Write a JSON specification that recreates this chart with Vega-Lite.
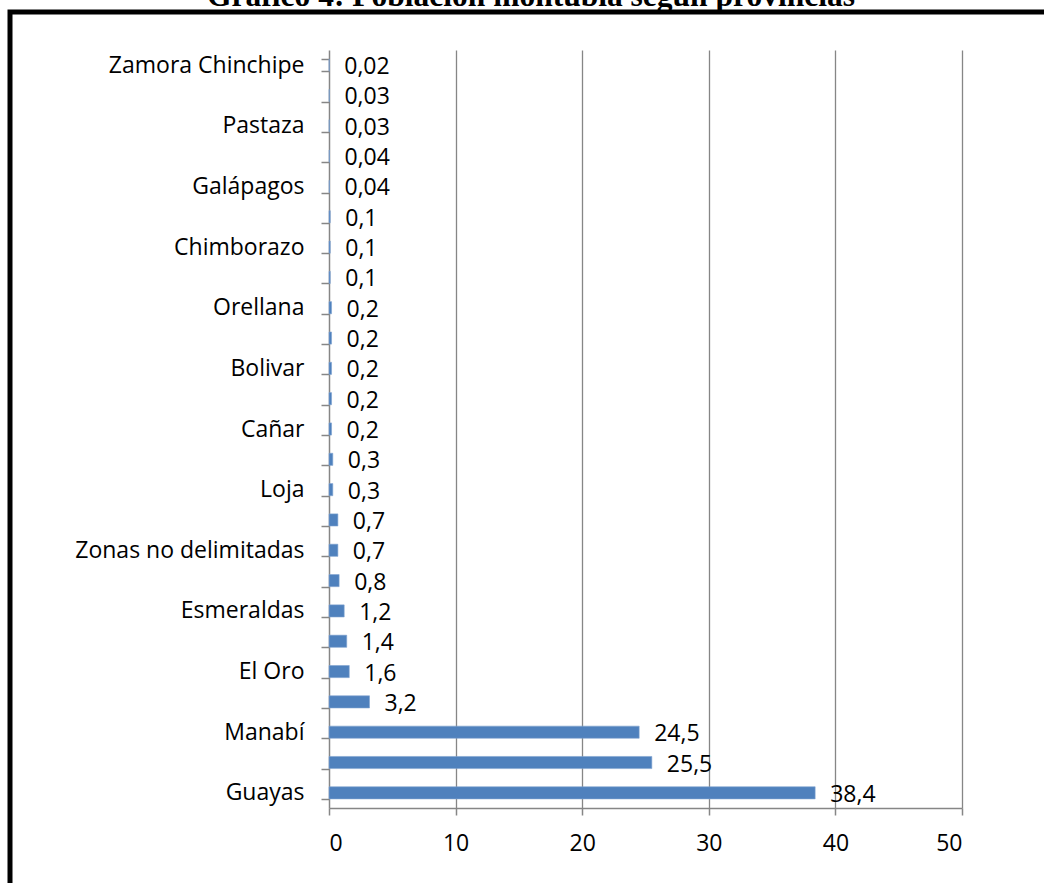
{
  "$schema": "https://vega.github.io/schema/vega-lite/v6.json",
  "autosize": {"type": "none"},
  "width": 1050,
  "height": 900,
  "padding": {"left": 10, "top": 12, "right": 0, "bottom": 0},
  "background": "white",
  "title": {
    "text": "Gráfico 4: Población montubia según provincias",
    "font": "Liberation Serif",
    "fontSize": 31.5,
    "fontWeight": "bold",
    "color": "black",
    "anchor": "middle",
    "frame": "group",
    "baseline": "alphabetic",
    "offset": -36,
    "dx": -4
  },
  "config": {
    "view": {"stroke": "black", "strokeWidth": 5},
    "locale": {"number": {"decimal": ",", "thousands": ".", "grouping": [3], "currency": ["", " €"]}},
    "axis": {
      "labelFont": "Open Sans",
      "labelFontSize": 23,
      "labelColor": "black",
      "labelLimit": 0,
      "domainColor": "#868686",
      "domainWidth": 1.5,
      "tickColor": "#868686",
      "tickWidth": 1.5,
      "gridColor": "#868686",
      "gridWidth": 1.3,
      "gridOpacity": 1,
      "title": null
    }
  },
  "data": {
    "values": [
      {"provincia": "Zamora Chinchipe", "valor": 0.02},
      {"provincia": "Napo", "valor": 0.03},
      {"provincia": "Pastaza", "valor": 0.03},
      {"provincia": "Morona Santiago", "valor": 0.04},
      {"provincia": "Galápagos", "valor": 0.04},
      {"provincia": "Carchi", "valor": 0.1},
      {"provincia": "Chimborazo", "valor": 0.1},
      {"provincia": "Imbabura", "valor": 0.1},
      {"provincia": "Orellana", "valor": 0.2},
      {"provincia": "Tungurahua", "valor": 0.2},
      {"provincia": "Bolivar", "valor": 0.2},
      {"provincia": "Cotopaxi", "valor": 0.2},
      {"provincia": "Cañar", "valor": 0.2},
      {"provincia": "Sucumbíos", "valor": 0.3},
      {"provincia": "Loja", "valor": 0.3},
      {"provincia": "Azuay", "valor": 0.7},
      {"provincia": "Zonas no delimitadas", "valor": 0.7},
      {"provincia": "Santo Domingo de los Tsáchilas", "valor": 0.8},
      {"provincia": "Esmeraldas", "valor": 1.2},
      {"provincia": "Santa Elena", "valor": 1.4},
      {"provincia": "El Oro", "valor": 1.6},
      {"provincia": "Pichincha", "valor": 3.2},
      {"provincia": "Manabí", "valor": 24.5},
      {"provincia": "Los Ríos", "valor": 25.5},
      {"provincia": "Guayas", "valor": 38.4}
    ]
  },
  "encoding": {
    "y": {
      "field": "provincia",
      "type": "nominal",
      "sort": null,
      "scale": {"range": [38, 796], "paddingInner": 0.6, "paddingOuter": 0.3},
      "axis": {
        "offset": -319,
        "grid": false,
        "tickBand": "extent",
        "tickSize": 8,
        "labelPadding": 17,
        "labelExpr": "indexof(['Zamora Chinchipe','Pastaza','Galápagos','Chimborazo','Orellana','Bolivar','Cañar','Loja','Zonas no delimitadas','Esmeraldas','El Oro','Manabí','Guayas'], datum.value) >= 0 ? datum.value : ''"
      }
    }
  },
  "layer": [
    {
      "mark": {"type": "bar", "color": "#4F81BD", "stroke": "#7FA3D0", "strokeWidth": 0.6},
      "encoding": {
        "x": {
          "field": "valor",
          "type": "quantitative",
          "scale": {"domain": [0, 50], "range": [319, 952], "nice": false, "zero": true},
          "axis": {
            "orient": "top",
            "values": [10, 20, 30, 40, 50],
            "grid": true,
            "labels": false,
            "ticks": false,
            "domain": false
          }
        }
      }
    },
    {
      "mark": {
        "type": "text",
        "align": "left",
        "baseline": "middle",
        "dx": 15,
        "dy": 2,
        "font": "Open Sans",
        "fontSize": 23,
        "color": "black"
      },
      "encoding": {
        "x": {
          "field": "valor",
          "type": "quantitative",
          "axis": {
            "orient": "bottom",
            "offset": -104,
            "values": [0, 10, 20, 30, 40, 50],
            "grid": false,
            "tickSize": 7,
            "labelPadding": 17,
            "format": "d"
          }
        },
        "text": {"field": "valor", "type": "quantitative", "format": "~f"}
      }
    }
  ]
}
